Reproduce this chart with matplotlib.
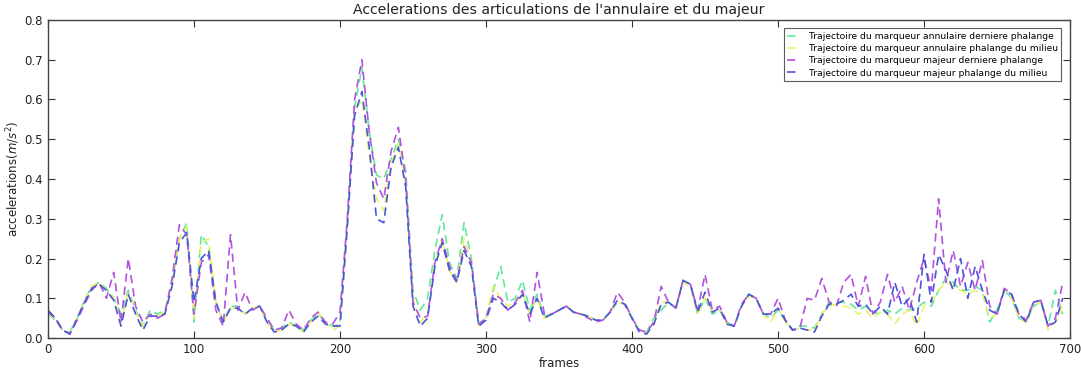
import matplotlib
matplotlib.use("Agg")
import matplotlib.pyplot as plt
import numpy as np

frames = list(range(0, 700, 5))

annulaire_derniere = [
    0.060, 0.045, 0.020, 0.015, 0.050, 0.095, 0.130, 0.140, 0.125, 0.100,
    0.060, 0.120, 0.070, 0.030, 0.070, 0.060, 0.070, 0.140, 0.250, 0.290,
    0.040, 0.260, 0.230, 0.090, 0.040, 0.080, 0.080, 0.060, 0.075, 0.080,
    0.040, 0.020, 0.025, 0.040, 0.030, 0.020, 0.045, 0.060, 0.040, 0.030,
    0.035, 0.290, 0.580, 0.680, 0.520, 0.410, 0.400, 0.450, 0.500, 0.420,
    0.120, 0.070, 0.100, 0.220, 0.310, 0.190, 0.150, 0.290, 0.200, 0.035,
    0.050, 0.120, 0.180, 0.090, 0.100, 0.145, 0.070, 0.110, 0.055, 0.060,
    0.070, 0.080, 0.065, 0.060, 0.055, 0.045, 0.045, 0.065, 0.090, 0.085,
    0.050, 0.020, 0.015, 0.050, 0.070, 0.090, 0.075, 0.145, 0.135, 0.060,
    0.100, 0.060, 0.070, 0.040, 0.030, 0.080, 0.110, 0.100, 0.060, 0.050,
    0.070, 0.045, 0.020, 0.030, 0.030, 0.025, 0.060, 0.090, 0.090, 0.090,
    0.085, 0.070, 0.080, 0.065, 0.060, 0.070, 0.060, 0.075, 0.070, 0.075,
    0.090, 0.080, 0.120, 0.150, 0.140, 0.120, 0.120, 0.130, 0.120, 0.040,
    0.070, 0.120, 0.100, 0.050, 0.040, 0.080, 0.090, 0.030, 0.120, 0.060,
]

annulaire_milieu = [
    0.065, 0.045, 0.020, 0.012, 0.050, 0.090, 0.130, 0.140, 0.120, 0.100,
    0.040, 0.115, 0.065, 0.030, 0.060, 0.055, 0.065, 0.140, 0.250, 0.280,
    0.050, 0.240, 0.250, 0.090, 0.040, 0.075, 0.075, 0.060, 0.075, 0.080,
    0.040, 0.015, 0.020, 0.035, 0.030, 0.015, 0.040, 0.065, 0.040, 0.020,
    0.030, 0.280, 0.570, 0.600, 0.460, 0.350, 0.320, 0.440, 0.490, 0.390,
    0.100, 0.040, 0.060, 0.190, 0.250, 0.170, 0.140, 0.250, 0.190, 0.030,
    0.050, 0.130, 0.100, 0.080, 0.090, 0.110, 0.060, 0.100, 0.050, 0.060,
    0.070, 0.080, 0.065, 0.060, 0.055, 0.045, 0.045, 0.065, 0.090, 0.085,
    0.050, 0.020, 0.010, 0.040, 0.090, 0.090, 0.075, 0.140, 0.130, 0.060,
    0.100, 0.065, 0.070, 0.035, 0.030, 0.080, 0.105, 0.100, 0.060, 0.040,
    0.075, 0.040, 0.020, 0.025, 0.020, 0.020, 0.060, 0.080, 0.085, 0.080,
    0.075, 0.060, 0.070, 0.050, 0.065, 0.060, 0.035, 0.060, 0.070, 0.030,
    0.080, 0.090, 0.120, 0.140, 0.130, 0.120, 0.110, 0.120, 0.110, 0.050,
    0.060, 0.120, 0.100, 0.050, 0.040, 0.080, 0.090, 0.020, 0.040, 0.080,
]

majeur_derniere = [
    0.065, 0.050, 0.020, 0.010, 0.045, 0.085, 0.120, 0.140, 0.100, 0.165,
    0.040, 0.200, 0.080, 0.040, 0.060, 0.050, 0.060, 0.150, 0.285, 0.260,
    0.060, 0.190, 0.210, 0.070, 0.030, 0.260, 0.070, 0.115, 0.070, 0.080,
    0.050, 0.020, 0.025, 0.070, 0.035, 0.020, 0.050, 0.065, 0.040, 0.035,
    0.065, 0.300, 0.600, 0.700, 0.520, 0.390, 0.350, 0.470, 0.530, 0.400,
    0.090, 0.050, 0.055, 0.190, 0.250, 0.180, 0.145, 0.230, 0.190, 0.035,
    0.050, 0.110, 0.100, 0.070, 0.090, 0.120, 0.040, 0.165, 0.060, 0.060,
    0.070, 0.080, 0.065, 0.060, 0.050, 0.040, 0.045, 0.065, 0.115, 0.090,
    0.050, 0.020, 0.015, 0.040, 0.130, 0.090, 0.075, 0.145, 0.135, 0.070,
    0.160, 0.070, 0.080, 0.040, 0.030, 0.085, 0.110, 0.100, 0.060, 0.060,
    0.100, 0.045, 0.020, 0.025, 0.100, 0.095, 0.150, 0.090, 0.080, 0.140,
    0.160, 0.080, 0.155, 0.060, 0.090, 0.160, 0.090, 0.130, 0.070, 0.140,
    0.200, 0.120, 0.350, 0.140, 0.220, 0.130, 0.190, 0.120, 0.195, 0.080,
    0.060, 0.125, 0.110, 0.060, 0.045, 0.090, 0.095, 0.030, 0.050, 0.140,
]

majeur_milieu = [
    0.070, 0.050, 0.020, 0.010, 0.050, 0.090, 0.125, 0.135, 0.120, 0.095,
    0.030, 0.110, 0.060, 0.020, 0.055, 0.055, 0.060, 0.130, 0.240, 0.265,
    0.090, 0.200, 0.220, 0.090, 0.040, 0.075, 0.075, 0.060, 0.075, 0.080,
    0.040, 0.015, 0.020, 0.035, 0.030, 0.015, 0.040, 0.055, 0.035, 0.030,
    0.030, 0.280, 0.560, 0.620, 0.480, 0.300, 0.290, 0.430, 0.480, 0.380,
    0.080, 0.030, 0.050, 0.180, 0.240, 0.170, 0.140, 0.220, 0.180, 0.030,
    0.045, 0.100, 0.090, 0.070, 0.085, 0.110, 0.060, 0.100, 0.050, 0.060,
    0.070, 0.080, 0.065, 0.060, 0.055, 0.045, 0.045, 0.065, 0.095, 0.085,
    0.050, 0.015, 0.010, 0.035, 0.085, 0.090, 0.075, 0.145, 0.135, 0.065,
    0.115, 0.065, 0.075, 0.035, 0.030, 0.080, 0.110, 0.100, 0.060, 0.060,
    0.075, 0.045, 0.020, 0.025, 0.020, 0.015, 0.055, 0.085, 0.085, 0.095,
    0.110, 0.080, 0.085, 0.060, 0.080, 0.060, 0.140, 0.080, 0.100, 0.040,
    0.210, 0.090, 0.210, 0.170, 0.120, 0.200, 0.100, 0.180, 0.120, 0.070,
    0.060, 0.120, 0.110, 0.060, 0.040, 0.090, 0.095, 0.030, 0.040, 0.100,
]

labels = [
    "Trajectoire du marqueur annulaire derniere phalange",
    "Trajectoire du marqueur annulaire phalange du milieu",
    "Trajectoire du marqueur majeur derniere phalange",
    "Trajectoire du marqueur majeur phalange du milieu",
]
colors = ["#62e89c", "#eaf36a", "#b452e0", "#4a55d8"]
series = [annulaire_derniere, annulaire_milieu, majeur_derniere, majeur_milieu]

fig = plt.figure(figsize=(10.81, 3.69), dpi=100, facecolor="white")
ax = fig.add_axes([48 / 1081, 1 - 338 / 369, (1070 - 48) / 1081, (338 - 20) / 369])

for ys, c, lab in zip(series, colors, labels):
    ax.plot(frames, ys, linestyle="--", color=c, linewidth=1.2, label=lab,
            dashes=(5, 3))

ax.set_xlim(0, 700)
ax.set_ylim(0, 0.8)
ax.set_xticks(np.arange(0, 701, 100))
ax.set_yticks(np.arange(0, 0.81, 0.1))
ax.set_yticklabels([f"{v:.1f}" for v in np.arange(0, 0.81, 0.1)])
ax.tick_params(direction="in", top=True, right=True, labelsize=8.5,
               length=5, color="#333333", labelcolor="#222222")
for sp in ax.spines.values():
    sp.set_color("#444444")
    sp.set_linewidth(1.0)

ax.set_title("Accelerations des articulations de l'annulaire et du majeur",
             fontsize=10.1, color="#222222", pad=4)
ax.set_xlabel("frames", fontsize=8.5, color="#222222", labelpad=1)
ax.set_ylabel(r"accelerations($m/s^2$)", fontsize=8.5, color="#222222", labelpad=2)

leg = ax.legend(loc="upper right", fontsize=6.6, handlelength=1.4,
                frameon=True, fancybox=False, borderpad=0.4,
                labelspacing=0.35, handletextpad=0.9,
                bbox_to_anchor=(0.996, 0.988))
leg.get_frame().set_edgecolor("#333333")
leg.get_frame().set_linewidth(0.8)

fig.savefig("out.png", dpi=100, facecolor="white")
